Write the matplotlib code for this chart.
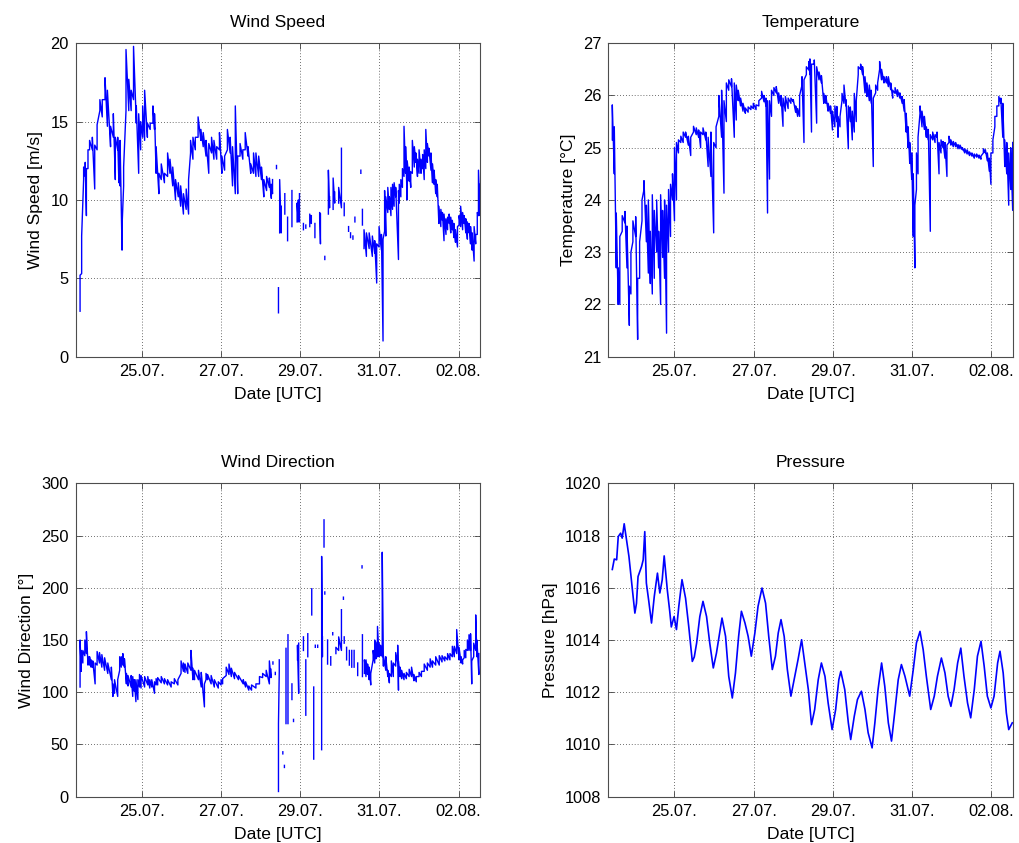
import numpy as np
import matplotlib
matplotlib.use("Agg")
import matplotlib.pyplot as plt

nan = float("nan")

# ---------------- data (time in days of July; 33 = 02.08.) ----------------
# Wind speed [m/s]: per sample time, lower and upper envelope of the trace
ws_t = [23.44, 23.48, 23.53, 23.57, 23.60, 23.64, 23.68, 23.75, 23.81, 23.87, 23.94, 24.00,
        24.07, 24.13, 24.21, 24.28, 24.33, 24.39, 24.42, 24.45, 24.50, 24.54, 24.60, 24.67,
        24.73, 24.79, 24.86, 24.92, 24.97, 25.02, 25.07, 25.14, 25.21, 25.28, 25.32, 25.36,
        25.43, 25.49, 25.57, 25.65, 25.71, 25.78, 25.85, 25.92, 25.98, 26.05, 26.12, 26.18,
        26.23, 26.29, 26.35, 26.42, 26.49, 26.55, 26.62, 26.69, 26.76, 26.82, 26.89, 26.96,
        27.02, 27.09, 27.16, 27.23, 27.29, 27.36, 27.42, 27.48, 27.55, 27.61, 27.68, 27.75,
        27.82, 27.88, 27.95, 28.02, 28.08, 28.15, 28.22, 28.27, 28.30,
        28.35, 28.40, 28.42, 28.45, 28.46, 28.48, 28.52, 28.55, 28.61, 28.64, 28.68, 28.70,
        28.79, 28.82, 28.92, 28.95, 28.98, 29.00, 29.08, 29.10, 29.14, 29.16, 29.24, 29.28,
        29.30, 29.37, 29.40, 29.49, 29.51, 29.53, 29.62, 29.64, 29.71, 29.74, 29.76, 29.83,
        29.87, 29.89, 29.97, 30.04, 30.07, 30.11, 30.13, 30.22, 30.23, 30.27, 30.28, 30.33,
        30.34, 30.38, 30.39, 30.53, 30.54, 30.57, 30.59,
        30.61, 30.67, 30.74, 30.82, 30.88, 30.93, 30.99, 31.05, 31.09, 31.13, 31.16, 31.21,
        31.25, 31.29, 31.33, 31.37, 31.41, 31.48, 31.50, 31.54, 31.58, 31.62, 31.66, 31.70,
        31.75, 31.79, 31.83, 31.88, 31.92, 31.96, 32.00, 32.05, 32.09, 32.13, 32.17, 32.21,
        32.25, 32.30, 32.34, 32.38, 32.42, 32.46, 32.50, 32.55, 32.59, 32.63, 32.68, 32.72,
        32.76, 32.80, 32.84, 32.88, 32.92, 32.97, 33.01, 33.05, 33.10, 33.14, 33.18, 33.22,
        33.26, 33.30, 33.34, 33.39, 33.43, 33.47, 33.50, 33.54]
ws_lo = [2.9, 5.3, 11.3, 11.5, 9.0, 12.0, 13.2, 13.2, 10.7, 13.2, 15.7, 15.3,
         16.4, 14.7, 13.4, 14.0, 11.3, 13.2, 11.1, 10.9, 6.8, 10.9, 15.7, 15.7,
         15.7, 16.4, 14.9, 11.7, 13.2, 14.0, 13.8, 14.0, 14.5, 14.9, 14.5, 11.7,
         10.4, 11.3, 11.1, 11.5, 11.7, 10.9, 10.0, 10.2, 9.6, 9.1, 9.4, 9.1,
         13.0, 12.6, 13.2, 14.0, 13.8, 13.4, 12.8, 11.7, 13.0, 12.6, 12.6, 13.2,
         11.7, 11.9, 13.2, 13.0, 10.9, 10.4, 10.4, 12.8, 12.6, 13.2, 12.8, 11.7,
         11.7, 11.5, 11.5, 11.3, 10.2, 10.6, 10.8, 10.1, 10.4,
         nan, 12.0, nan, 2.8, nan, 7.9, 7.9, nan, 9.1, nan, 7.4, nan,
         8.3, nan, 8.6, 8.6, 8.6, nan, 8.1, nan, 8.2, nan, 8.3, 8.5,
         nan, 7.6, nan, 8.8, 7.2, nan, 6.2, nan, 9.1, 9.5, nan, 9.4,
         9.8, nan, 9.8, 9.5, nan, 9.0, nan, 8.0, nan, 7.6, nan, 7.5,
         nan, 8.6, nan, 11.7, nan, 8.4, nan,
         6.9, 6.4, 6.9, 6.4, 6.6, 4.7, 7.0, 6.8, 1.0, 8.0, 7.7, 9.2,
         9.4, 9.0, 9.4, 9.6, 10.2, 6.2, 9.8, 10.2, 10.8, 11.5, 11.7, 10.0,
         11.2, 10.8, 11.7, 12.1, 12.4, 11.5, 11.7, 11.7, 12.0, 11.3, 12.0, 12.4,
         12.8, 11.9, 11.1, 11.0, 10.4, 10.2, 8.5, 8.3, 8.7, 7.4, 7.8, 8.1,
         8.5, 7.9, 8.1, 7.6, 7.3, 7.0, 8.4, 8.3, 8.1, 8.5, 7.9, 7.5,
         7.9, 7.2, 6.8, 6.1, 7.2, 7.8, 9.0, 9.0]
ws_hi = [5.2, 7.7, 12.1, 12.4, 12.0, 13.2, 13.8, 14.0, 13.5, 14.8, 16.4, 16.4,
         17.8, 17.0, 14.7, 15.5, 14.0, 14.0, 13.2, 13.8, 8.3, 12.1, 19.6, 17.7,
         17.0, 19.8, 16.0, 15.5, 15.0, 16.0, 17.0, 14.9, 14.9, 16.0, 15.5, 13.4,
         11.7, 12.3, 11.7, 13.0, 12.6, 12.1, 11.3, 11.1, 10.9, 10.4, 10.7, 11.3,
         13.8, 14.0, 14.0, 15.3, 14.5, 14.3, 13.8, 13.6, 14.0, 13.8, 13.4, 14.3,
         12.8, 12.8, 14.5, 14.0, 13.4, 16.0, 12.8, 13.6, 13.2, 14.3, 13.4, 12.3,
         13.0, 13.0, 12.8, 12.1, 11.3, 11.5, 11.4, 11.0, 11.3,
         nan, 12.2, nan, 4.4, nan, 11.3, 9.6, nan, 10.4, nan, 8.9, nan,
         10.6, nan, 9.8, 10.0, 10.4, nan, 8.5, nan, 8.4, nan, 9.1, 9.0,
         nan, 8.5, nan, 9.2, 9.1, nan, 6.4, nan, 11.9, 10.2, nan, 11.4,
         10.5, nan, 10.8, 13.3, nan, 9.8, nan, 8.3, nan, 7.9, nan, 7.7,
         nan, 8.9, nan, 11.9, nan, 9.4, nan,
         8.1, 7.9, 7.9, 7.7, 7.4, 7.2, 8.3, 7.8, 7.5, 10.6, 10.2, 10.8,
         10.2, 10.8, 11.0, 11.1, 10.8, 10.6, 11.0, 11.3, 12.0, 14.7, 13.4, 12.5,
         12.1, 11.8, 13.8, 13.4, 13.0, 12.6, 13.2, 12.6, 12.9, 13.2, 14.5, 13.6,
         13.3, 13.0, 12.3, 11.9, 11.3, 11.0, 9.6, 9.4, 9.2, 9.1, 8.8, 8.9,
         9.1, 8.9, 8.7, 8.5, 8.1, 8.3, 9.0, 9.6, 9.2, 9.0, 8.8, 8.6,
         8.5, 8.3, 7.9, 8.3, 7.8, 9.2, 11.9, 11.0]

# Temperature [deg C]
temp_t = [23.43, 23.48, 23.53, 23.58, 23.62, 23.68, 23.75, 23.80, 23.86, 23.90, 23.95, 24.02,
          24.07, 24.12, 24.18, 24.23, 24.29, 24.34, 24.39, 24.44, 24.49, 24.55, 24.60, 24.65,
          24.70, 24.75, 24.80, 24.85, 24.90, 24.95, 25.00, 25.05, 25.10, 25.16, 25.22, 25.28,
          25.35, 25.41, 25.48, 25.55, 25.61, 25.66, 25.72, 25.79, 25.85, 25.92, 25.99, 26.05,
          26.12, 26.19, 26.25, 26.31, 26.37, 26.44, 26.51, 26.56, 26.61, 26.67, 26.73, 26.79,
          26.86, 26.93, 26.99, 27.06, 27.13, 27.20, 27.26, 27.31, 27.35, 27.40, 27.45, 27.51,
          27.57, 27.63, 27.69, 27.74, 27.80, 27.87, 27.94, 28.00, 28.06, 28.11, 28.16, 28.22,
          28.27, 28.33, 28.39, 28.42, 28.46, 28.53, 28.59, 28.65, 28.71, 28.77, 28.82, 28.88,
          28.94, 28.99, 29.05, 29.10, 29.13, 29.18, 29.23, 29.28, 29.33, 29.39, 29.44, 29.49,
          29.54, 29.59, 29.64, 29.70, 29.75, 29.81, 29.86, 29.92, 29.97, 30.02, 30.08, 30.13,
          30.18, 30.23, 30.29, 30.35, 30.40, 30.46, 30.51, 30.57, 30.63, 30.69, 30.75, 30.80,
          30.85, 30.90, 30.94, 30.99, 31.03, 31.07, 31.11, 31.15, 31.20, 31.25, 31.31, 31.36,
          31.41, 31.46, 31.52, 31.58, 31.63, 31.68, 31.73, 31.78, 31.83, 31.88, 31.93, 31.98,
          32.04, 32.10, 32.16, 32.21, 32.27, 32.33, 32.39, 32.45, 32.51, 32.57, 32.63, 32.69,
          32.74, 32.80, 32.85, 32.90, 32.95, 32.99, 33.04, 33.09, 33.14, 33.19, 33.24, 33.29,
          33.34, 33.39, 33.44, 33.49, 33.54]
temp_lo = [25.15, 24.5, 22.7, 22.0, 22.0, 23.4, 23.56, 22.7, 21.6, 22.2, 23.2, 23.3,
           21.33, 22.5, 23.6, 24.2, 23.2, 22.6, 22.4, 22.2, 22.5, 23.0, 22.7, 22.0,
           22.9, 22.5, 21.45, 23.0, 23.3, 24.0, 23.6, 24.0, 24.9, 25.1, 25.1, 25.2,
           25.05, 24.85, 25.3, 25.25, 25.2, 25.0, 25.25, 25.15, 24.64, 24.45, 23.37, 25.0,
           25.6, 25.2, 24.13, 25.5, 26.1, 26.17, 25.2, 25.53, 25.9, 25.8, 25.7, 25.66,
           25.68, 25.73, 25.75, 25.73, 25.8, 25.95, 25.88, 25.8, 23.75, 24.4, 25.6, 26.0,
           26.05, 25.85, 25.8, 25.41, 25.7, 25.75, 25.85, 25.88, 25.68, 25.6, 25.6, 26.2,
           25.1, 26.4, 26.49, 26.4, 25.3, 26.6, 25.47, 26.3, 26.24, 25.85, 25.85, 25.7,
           25.66, 25.34, 25.4, 25.5, 25.2, 25.4, 25.9, 25.85, 25.8, 24.98, 25.5, 25.15,
           25.3, 25.5, 26.4, 26.5, 26.4, 26.05, 25.98, 25.9, 25.85, 24.64, 26.05, 26.1,
           26.5, 26.3, 26.24, 26.24, 26.17, 26.11, 25.95, 26.04, 25.98, 25.95, 25.85, 25.7,
           25.3, 25.0, 24.7, 24.4, 23.3, 22.7, 24.2, 24.5, 25.66, 25.4, 25.35, 25.2,
           25.15, 23.4, 25.15, 25.1, 25.2, 24.5, 24.9, 25.0, 24.8, 24.45, 25.1, 25.05,
           25.02, 25.02, 24.98, 24.98, 24.96, 24.9, 24.88, 24.85, 24.84, 24.8, 24.82, 24.8,
           24.78, 24.9, 24.9, 24.75, 24.55, 24.3, 24.9, 25.4, 25.6, 25.8, 25.85, 25.2,
           24.64, 24.5, 23.9, 24.2, 23.8]
temp_hi = [25.82, 25.4, 23.75, 22.7, 23.3, 23.7, 23.78, 23.5, 22.35, 23.0, 23.6, 23.68,
           22.5, 23.2, 24.0, 24.37, 23.9, 24.0, 23.4, 24.1, 23.8, 24.0, 23.4, 24.1,
           23.8, 24.0, 23.9, 24.2, 24.3, 24.5, 25.0, 25.1, 25.15, 25.22, 25.3, 25.3,
           25.22, 25.2, 25.41, 25.38, 25.34, 25.3, 25.38, 25.3, 25.2, 25.3, 25.1, 25.4,
           26.0, 26.1, 25.9, 26.24, 26.3, 26.32, 26.24, 26.2, 26.1, 25.95, 25.85, 25.76,
           25.78, 25.8, 25.85, 25.82, 25.9, 26.08, 26.0, 25.95, 25.9, 25.9, 26.1, 26.15,
           26.17, 26.05, 26.0, 25.95, 25.98, 25.95, 25.95, 25.92, 25.8, 25.75, 26.0, 26.36,
           26.3, 26.55, 26.65, 26.7, 26.6, 26.68, 26.55, 26.45, 26.38, 26.04, 26.0, 25.85,
           25.8, 25.7, 25.8, 25.79, 25.6, 25.6, 26.04, 26.2, 25.92, 25.8, 25.78, 25.7,
           26.04, 25.9, 26.55, 26.6, 26.55, 26.36, 26.24, 26.2, 26.1, 25.95, 26.2, 26.24,
           26.65, 26.5, 26.36, 26.36, 26.36, 26.24, 26.1, 26.15, 26.11, 26.05, 25.98, 25.92,
           25.66, 25.4, 25.1, 24.9, 24.5, 23.9, 24.9, 25.2, 25.8, 25.7, 25.6, 25.4,
           25.35, 25.25, 25.3, 25.25, 25.3, 25.1, 25.15, 25.12, 25.1, 25.05, 25.22, 25.15,
           25.12, 25.1, 25.06, 25.05, 25.0, 24.98, 24.96, 24.92, 24.9, 24.88, 24.88, 24.86,
           24.84, 24.98, 24.96, 24.9, 24.8, 24.9, 25.15, 25.6, 25.8, 25.98, 25.95, 25.85,
           25.15, 25.1, 24.9, 25.0, 25.1]

# Wind direction [deg]
wd_t = [23.44, 23.47, 23.51, 23.56, 23.60, 23.64, 23.68, 23.72, 23.76, 23.82, 23.87, 23.93,
        23.99, 24.06, 24.14, 24.23, 24.27, 24.31, 24.39, 24.44, 24.48, 24.52, 24.56, 24.61,
        24.65, 24.73, 24.77, 24.81, 24.85, 24.90, 24.94, 24.98, 25.07, 25.15, 25.20, 25.25,
        25.32, 25.36, 25.40, 25.49, 25.57, 25.65, 25.74, 25.82, 25.91, 25.99, 26.05, 26.09,
        26.16, 26.24, 26.29, 26.33, 26.43, 26.50, 26.58, 26.62, 26.66, 26.75, 26.83, 26.93,
        27.00, 27.04, 27.13, 27.20, 27.26, 27.34, 27.44, 27.56, 27.62, 27.70, 27.77, 27.88,
        27.97, 28.05, 28.14, 28.22, 28.26,
        28.30, 28.31, 28.33, 28.37, 28.38, 28.45, 28.47, 28.48, 28.56, 28.57, 28.60, 28.61,
        28.64, 28.66, 28.69, 28.70, 28.79, 28.80, 28.83, 28.84, 28.93, 28.96, 28.98, 29.08,
        29.10, 29.14, 29.15, 29.19, 29.20, 29.29, 29.30, 29.34, 29.35, 29.38, 29.39, 29.44,
        29.45, 29.54, 29.56, 29.57, 29.60, 29.61, 29.62, 29.63, 29.69, 29.70, 29.77, 29.78,
        29.82, 29.83, 29.90, 29.97, 30.04, 30.06, 30.09, 30.10, 30.11, 30.13, 30.17, 30.20,
        30.24, 30.26, 30.30, 30.32, 30.36, 30.38, 30.45, 30.47, 30.56, 30.565, 30.57, 30.58,
        30.62, 30.66, 30.70, 30.74, 30.78, 30.84, 30.88, 30.91, 30.95, 30.99, 31.03, 31.07,
        31.10, 31.16, 31.21, 31.25, 31.30, 31.35, 31.41, 31.46, 31.48, 31.52, 31.56, 31.62,
        31.68, 31.75, 31.81, 31.87, 31.93, 32.00, 32.06, 32.13, 32.21, 32.28, 32.34, 32.42,
        32.51, 32.58, 32.65, 32.72, 32.78, 32.84, 32.89, 32.95, 33.01, 33.06, 33.10, 33.14,
        33.18, 33.22, 33.26, 33.30, 33.33, 33.38, 33.43, 33.46, 33.51]
wd_lo = [105, 120, 128, 135, 137, 126, 126, 124, 124, 108, 126, 128,
         124, 121, 118, 112, 96, 99, 96, 121, 124, 126, 124, 108,
         106, 105, 96, 101, 91, 93, 105, 104, 105, 107, 104, 105,
         99, 107, 107, 109, 108, 107, 105, 108, 107, 118, 120, 119,
         118, 121, 112, 112, 112, 105, 86, 112, 112, 108, 105, 104,
         107, 108, 116, 117, 115, 113, 112, 108, 105, 102, 102, 104,
         108, 114, 115, 108, 114,
         nan, 127, nan, 117, nan, 5, 120, nan, 41, nan, 28, nan,
         70, nan, 70, nan, 93, nan, 72, nan, 131, 99, nan, 140,
         nan, 78, nan, 134, nan, 174, nan, 36, nan, 143, nan, 143,
         nan, 45, 134, nan, 239, nan, 194, nan, 127, nan, 126, nan,
         155, nan, 137, 140, 140, nan, 189, nan, 147, nan, 131, nan,
         126, nan, 124, nan, 124, nan, 116, nan, 219, nan, 115, nan,
         118, 115, 117, 112, 107, 131, 128, 132, 134, 134, 135, 134,
         125, 121, 115, 109, 115, 115, 125, 128, 102, 115, 113, 112,
         113, 115, 115, 111, 110, 115, 115, 120, 121, 124, 124, 126,
         126, 129, 130, 131, 131, 134, 134, 137, 131, 128, 127, 133,
         133, 140, 140, 140, 108, 134, 140, 134, 117]
wd_hi = [150, 140, 140, 150, 158, 134, 134, 131, 130, 128, 139, 138,
         136, 133, 128, 124, 108, 112, 112, 134, 134, 137, 132, 118,
         116, 116, 115, 112, 112, 112, 117, 116, 115, 115, 112, 112,
         110, 113, 114, 115, 113, 112, 110, 113, 112, 130, 128, 127,
         128, 140, 123, 121, 121, 119, 108, 118, 117, 116, 112, 110,
         112, 113, 124, 127, 123, 119, 116, 112, 110, 106, 107, 108,
         115, 118, 121, 130, 122,
         nan, 129, nan, 119, nan, 70, 131, nan, 43, nan, 30, nan,
         142, nan, 155, nan, 108, nan, 74, nan, 145, 147, nan, 153,
         nan, 131, nan, 156, nan, 199, nan, 105, nan, 145, nan, 145,
         nan, 230, 153, nan, 265, nan, 196, nan, 150, nan, 134, nan,
         157, nan, 143, 153, 179, nan, 191, nan, 153, nan, 143, nan,
         140, nan, 140, nan, 140, nan, 128, nan, 221, nan, 155, nan,
         131, 131, 127, 124, 118, 140, 150, 148, 163, 147, 145, 234,
         135, 134, 121, 118, 130, 128, 138, 145, 130, 124, 121, 118,
         119, 122, 124, 117, 115, 119, 120, 127, 128, 132, 130, 134,
         135, 135, 134, 137, 137, 144, 144, 160, 143, 134, 131, 140,
         141, 150, 155, 156, 130, 147, 174, 150, 137]

# Pressure [hPa]
p_t = [23.43, 23.48, 23.54, 23.58, 23.64, 23.68, 23.73, 23.79, 23.85, 23.91, 23.96, 24.00,
       24.04, 24.08, 24.17, 24.21, 24.25, 24.29, 24.35, 24.42, 24.49, 24.57, 24.63, 24.69,
       24.74, 24.82, 24.88, 24.92, 24.99, 25.05, 25.11, 25.19, 25.28, 25.36, 25.45, 25.50,
       25.56, 25.64, 25.72, 25.81, 25.89, 25.98, 26.06, 26.14, 26.20, 26.29, 26.37, 26.46,
       26.54, 26.62, 26.69, 26.78, 26.86, 26.94, 27.03, 27.11, 27.21, 27.30, 27.38, 27.47,
       27.55, 27.62, 27.69, 27.77, 27.85, 27.94, 28.02, 28.12, 28.21, 28.29, 28.38, 28.46,
       28.54, 28.63, 28.71, 28.80, 28.88, 28.98, 29.07, 29.15, 29.20, 29.30, 29.39, 29.45,
       29.54, 29.62, 29.72, 29.81, 29.89, 29.99, 30.06, 30.14, 30.23, 30.31, 30.40, 30.48,
       30.56, 30.65, 30.73, 30.82, 30.90, 30.94, 31.03, 31.11, 31.20, 31.28, 31.36, 31.47,
       31.56, 31.64, 31.74, 31.83, 31.91, 31.98, 32.06, 32.15, 32.23, 32.31, 32.40, 32.48,
       32.57, 32.65, 32.74, 32.82, 32.90, 32.99, 33.07, 33.16, 33.22, 33.30, 33.38, 33.44,
       33.53]
p_val = [1016.7, 1017.1, 1017.07, 1017.96, 1018.09, 1017.9, 1018.45, 1017.83, 1017.2, 1016.31, 1015.6, 1015.03,
         1015.4, 1016.43, 1016.82, 1017.07, 1018.15, 1016.18, 1015.5, 1014.65, 1015.67, 1016.56, 1015.8, 1016.3,
         1017.22, 1015.9, 1015.1, 1014.5, 1014.9, 1014.4, 1015.3, 1016.31, 1015.6, 1014.52, 1013.18, 1013.35,
         1013.89, 1014.9, 1015.48, 1014.9, 1013.89, 1012.93, 1013.5, 1014.27, 1014.84, 1014.14, 1012.61, 1011.78,
         1012.74, 1014.14, 1015.1, 1014.65, 1014.14, 1013.38, 1014.27, 1015.29, 1015.99, 1015.41, 1014.14, 1012.87,
         1013.38, 1014.27, 1014.78, 1014.14, 1012.87, 1011.85, 1012.48, 1013.25, 1014.01, 1013.12, 1012.1, 1010.76,
         1011.34, 1012.48, 1013.12, 1012.61, 1011.59, 1010.57, 1011.34, 1012.48, 1012.8, 1012.1, 1010.83, 1010.19,
         1011.08, 1011.72, 1012.04, 1011.34, 1010.45, 1009.87, 1010.83, 1012.1, 1013.12, 1012.23, 1010.83, 1010.13,
         1011.21, 1012.48, 1013.06, 1012.61, 1012.1, 1011.85, 1012.87, 1013.89, 1014.33, 1013.63, 1012.61, 1011.34,
         1011.85, 1012.61, 1013.31, 1012.74, 1011.85, 1011.46, 1012.1, 1013.12, 1013.69, 1012.61, 1011.59, 1011.02,
         1012.1, 1013.38, 1013.95, 1013.0, 1011.85, 1011.4, 1011.85, 1013.12, 1013.57, 1012.74, 1011.21, 1010.57,
         1010.83]

x_ticks = [25, 27, 29, 31, 33]
x_tick_labels = ["25.07.", "27.07.", "29.07.", "31.07.", "02.08."]
x_limits = (23.33, 33.54)

# ---------------- styling ----------------
plt.rcParams["font.family"] = ["Liberation Sans", "DejaVu Sans"]
LINE = (0, 0, 1)
FS_TICK = 11.8
FS_LABEL = 12.6

fig = plt.figure(figsize=(10.19, 8.43), dpi=100)
W, H = 0.3968, 0.3718
positions = [(0.0743, 0.5769), (0.5970, 0.5769), (0.0743, 0.0549), (0.5970, 0.0549)]
axes = [fig.add_axes([x, y, W, H]) for x, y in positions]


def envelope(t, lo, hi):
    t = np.asarray(t, float)
    x = np.repeat(t, 2)
    y = np.column_stack([np.asarray(lo, float), np.asarray(hi, float)]).ravel()
    return x, y


def style(ax, title, ylabel, ylim, yticks):
    ax.set_xlim(*x_limits)
    ax.set_ylim(*ylim)
    ax.set_xticks(x_ticks)
    ax.set_xticklabels(x_tick_labels)
    ax.set_yticks(yticks)
    ax.set_title(title, fontsize=FS_LABEL, pad=12)
    ax.set_xlabel("Date [UTC]", fontsize=FS_LABEL, labelpad=6)
    ax.set_ylabel(ylabel, fontsize=FS_LABEL, labelpad=5)
    ax.tick_params(direction="in", length=4, width=0.6, top=True, right=True,
                   labelsize=FS_TICK, color="0.25", pad=5)
    ax.grid(True, color="0.25", linestyle=(0, (1, 2.5)), linewidth=0.6)
    ax.set_axisbelow(True)
    for s in ax.spines.values():
        s.set_color("0.3")
        s.set_linewidth(0.8)


ax = axes[0]
x, y = envelope(ws_t, ws_lo, ws_hi)
ax.plot(x, y, color=LINE, lw=1.0)
style(ax, "Wind Speed", "Wind Speed [m/s]", (0, 20), [0, 5, 10, 15, 20])

ax = axes[1]
x, y = envelope(temp_t, temp_lo, temp_hi)
ax.plot(x, y, color=LINE, lw=1.0)
style(ax, "Temperature", "Temperature [\u00b0C]", (21, 27), [21, 22, 23, 24, 25, 26, 27])

ax = axes[2]
x, y = envelope(wd_t, wd_lo, wd_hi)
ax.plot(x, y, color=LINE, lw=1.0)
style(ax, "Wind Direction", "Wind Direction [\u00b0]", (0, 300), [0, 50, 100, 150, 200, 250, 300])

ax = axes[3]
ax.plot(p_t, p_val, color=LINE, lw=1.2)
style(ax, "Pressure", "Pressure [hPa]", (1008, 1020), list(range(1008, 1021, 2)))

fig.savefig("out.png", dpi=100)
